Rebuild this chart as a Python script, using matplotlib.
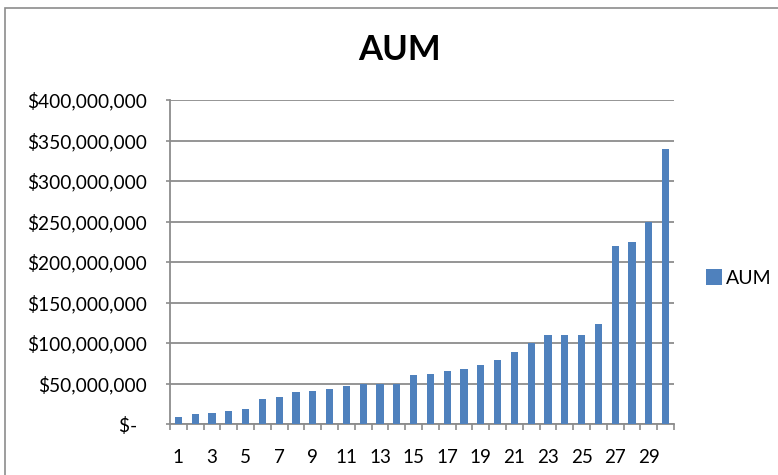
import matplotlib
matplotlib.use("Agg")
import matplotlib.pyplot as plt
from matplotlib.patches import Rectangle
from matplotlib.ticker import FuncFormatter, FixedLocator
import numpy as np

categories = list(range(1, 31))
aum = [9e6, 12e6, 14e6, 16.5e6, 18.5e6, 31e6, 33e6, 39e6, 41e6, 43e6,
       47e6, 49e6, 49e6, 49e6, 60e6, 61.5e6, 65.5e6, 67.5e6, 73e6, 79.5e6,
       89.5e6, 100e6, 110e6, 110e6, 110e6, 124e6, 220e6, 225e6, 250e6, 340e6]
tick_labels = [str(c) if c % 2 == 1 else "" for c in categories]
series_name = "AUM"
title = "AUM"

plt.rcParams['font.family'] = ['Lato', 'DejaVu Sans']
W, H = 778, 475
fig = plt.figure(figsize=(W / 100, H / 100), dpi=100)
fig.patch.set_facecolor("white")

# outer chart border
fig.patches.append(Rectangle((5 / W, -0.05), 1.1, 1 - 8 / H + 0.05,
                             transform=fig.transFigure, fill=False,
                             edgecolor="#8c8c8c", linewidth=1.2))

ax = fig.add_axes([170 / W, 1 - 424 / H, (674 - 170) / W, (424 - 100) / H])
x = np.arange(len(categories))
ax.bar(x, aum, width=0.42, color="#4F81BD", label=series_name, zorder=3)

ax.set_xlim(-0.5, len(categories) - 0.5)
ax.set_ylim(0, 400e6)
ax.set_yticks(np.arange(0, 400e6 + 1, 50e6))


def fmt(v, pos):
    if v == 0:
        return "$-  "
    return "${:,.0f}".format(v)


ax.yaxis.set_major_formatter(FuncFormatter(fmt))
ax.grid(axis="y", color="#8c8c8c", linewidth=1.3, zorder=0)
ax.set_axisbelow(True)

ax.set_xticks(x)
ax.set_xticklabels(tick_labels)
ax.tick_params(axis="x", length=0, pad=18, labelsize=13.5)
ax.xaxis.set_minor_locator(FixedLocator(np.arange(-0.5, len(categories), 1.0)))
ax.tick_params(axis="x", which="minor", length=4.5, color="#8c8c8c", width=1.2)
ax.tick_params(axis="y", length=3, color="#8c8c8c", width=1.2, pad=13.5,
               labelsize=13.8)

for s in ["top", "right"]:
    ax.spines[s].set_visible(False)
for s in ["left", "bottom"]:
    ax.spines[s].set_color("#8c8c8c")
    ax.spines[s].set_linewidth(1.3)

fig.text(400 / W, 1 - 50 / H, title, ha="center", va="center",
         fontsize=25, fontweight="bold")

leg = fig.legend(loc="center left", bbox_to_anchor=(698 / W, 1 - 278 / H),
                 frameon=False, fontsize=14, handlelength=0.85,
                 handleheight=0.85, handletextpad=0.2, borderaxespad=0)

fig.savefig("out.png", dpi=100)
